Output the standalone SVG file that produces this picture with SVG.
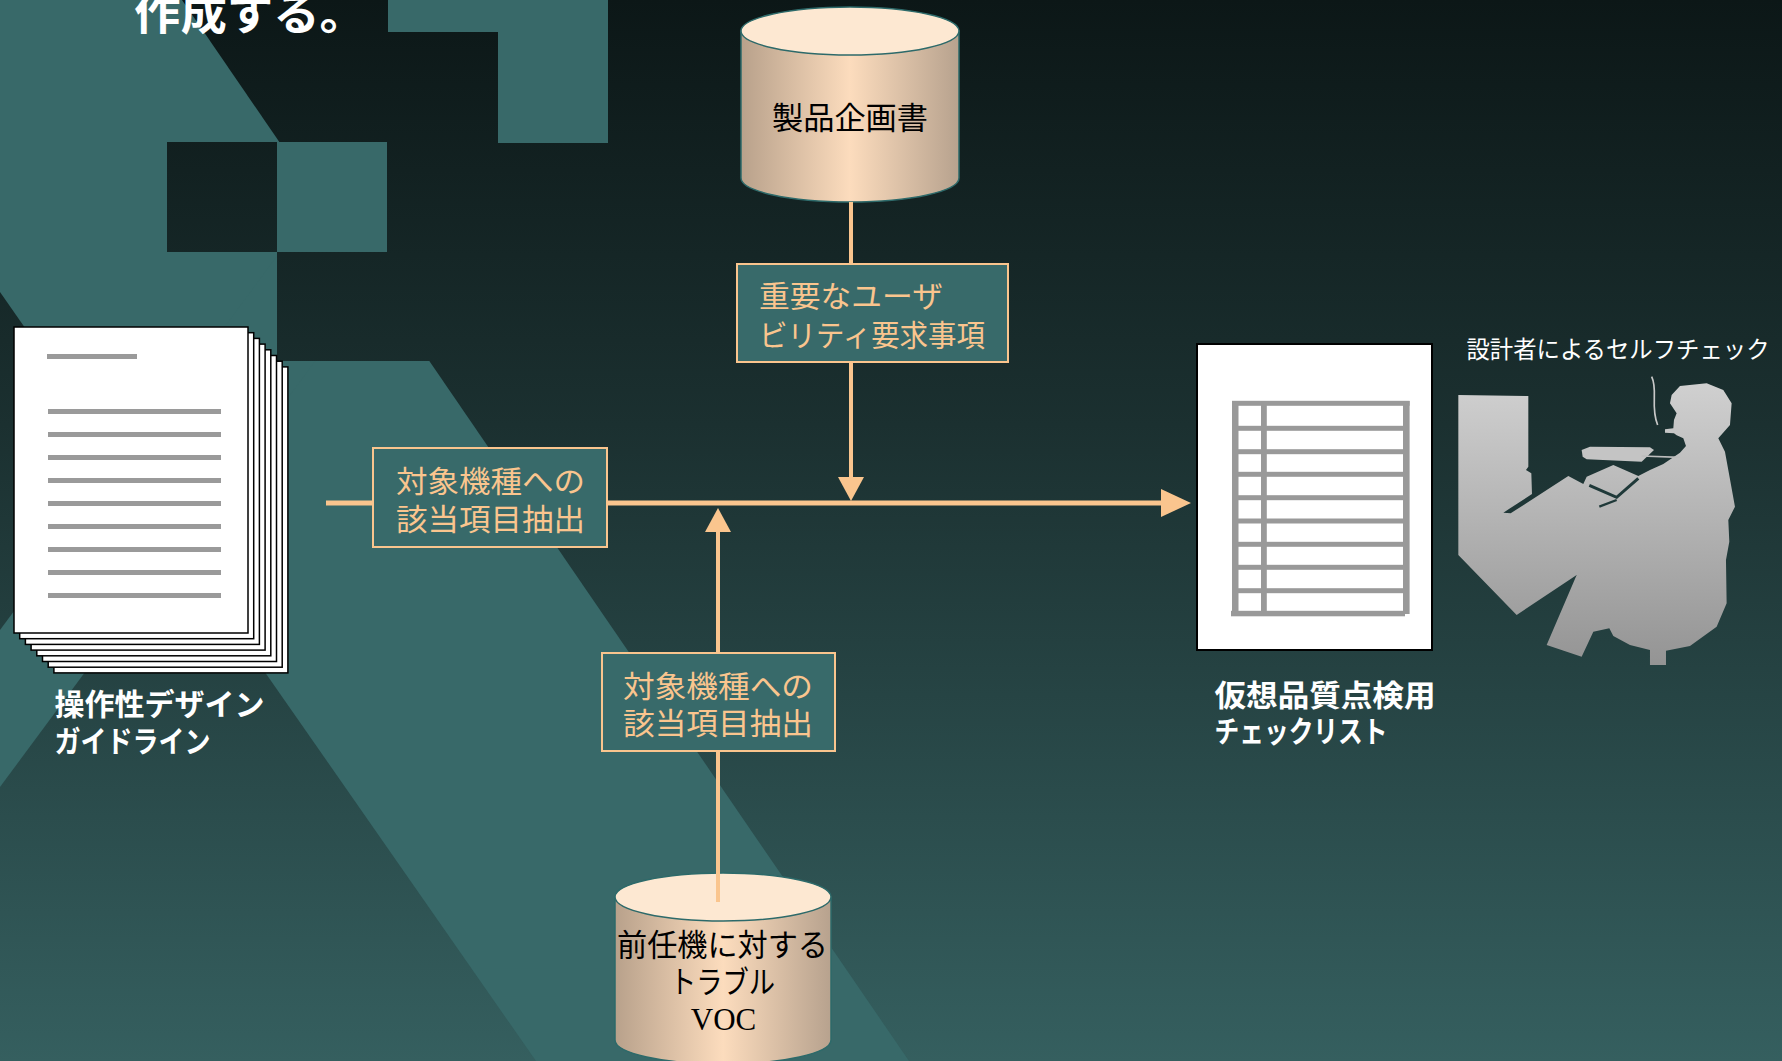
<svg xmlns="http://www.w3.org/2000/svg" width="1782" height="1061" viewBox="0 0 1782 1061">
  <defs>
    <linearGradient id="bg" gradientUnits="userSpaceOnUse" x1="0" y1="0" x2="0" y2="1061">
      <stop offset="0" stop-color="#0c1717"/>
      <stop offset="0.4" stop-color="#1b3030"/>
      <stop offset="1" stop-color="#355f5f"/>
    </linearGradient>
    <linearGradient id="cylBody" x1="0" y1="0" x2="1" y2="0">
      <stop offset="0" stop-color="#b8a18b"/>
      <stop offset="0.5" stop-color="#fcdcbd"/>
      <stop offset="1" stop-color="#b7a28e"/>
    </linearGradient>
    <linearGradient id="figureFill" x1="0" y1="0" x2="0" y2="1">
      <stop offset="0" stop-color="#d0d0d0"/>
      <stop offset="1" stop-color="#949494"/>
    </linearGradient>
    <marker id="arrowV" markerUnits="userSpaceOnUse" markerWidth="24" markerHeight="26" viewBox="0 0 24 26" refX="0" refY="13" orient="auto">
      <path d="M0,0 L24,13 L0,26 Z" fill="#fac58e"/>
    </marker>
    <marker id="arrowH" markerUnits="userSpaceOnUse" markerWidth="30" markerHeight="28" viewBox="0 0 30 28" refX="0" refY="14" orient="auto">
      <path d="M0,0 L30,14 L0,28 Z" fill="#fac58e"/>
    </marker>
  </defs>
  <style>
    .jp { font-family: "Noto Sans CJK JP", "Noto Sans", sans-serif; }
    .serif { font-family: "Liberation Serif", "Noto Sans CJK JP", serif; }
    .conn { fill: none; stroke: #fac58e; stroke-width: 4; }
    .main { stroke-width: 5; }
    .box { fill: #386a6a; stroke: #fac58e; stroke-width: 2; }
    .boxText { fill: #fac58e; font-size: 30px; }
    .cylSide { fill: url(#cylBody); stroke: #2d6a6a; stroke-width: 1.5; }
    .cylTop { fill: #fde8d2; stroke: #2d6a6a; stroke-width: 1.5; }
    .cylText { fill: #000; font-size: 31px; text-anchor: middle; }
    .page { fill: #fff; stroke: #000; stroke-width: 1.5; }
    .rule { fill: #9a9a9a; }
    .caption { fill: #fff; font-weight: bold; font-size: 30px; }
    .teal { fill: #386969; }
    .shade { fill: url(#bg); }
    .grid { fill: #999; }
  </style>

  <!-- backdrop: gradient with light beams and a block mosaic -->
  <rect width="1782" height="1061" fill="url(#bg)"/>
  <g class="teal">
    <polygon points="0,0 182,0 909,1061 536,1061 0,292"/>
    <polygon points="280,252 396,252 0,787 0,630"/>
  </g>
  <g class="shade">
    <rect x="167" y="142" width="110" height="110"/>
    <rect x="277" y="252" width="220" height="109"/>
  </g>
  <g class="teal">
    <rect x="277" y="142" width="110" height="110"/>
    <rect x="388" y="0" width="220" height="32"/>
    <rect x="498" y="0" width="110" height="143"/>
  </g>

  <!-- heading tail -->
  <text class="jp" x="134" y="30" font-size="44" font-weight="bold" fill="#fff" textLength="232" lengthAdjust="spacingAndGlyphs">作成する。</text>

  <!-- product plan (database) -->
  <g id="node-product-plan">
    <path class="cylSide" d="M741,31 L741,178 A109,24 0 0 0 959,178 L959,31 Z"/>
    <ellipse class="cylTop" cx="850" cy="31" rx="109" ry="24"/>
    <text class="serif cylText" x="850" y="129" textLength="156" lengthAdjust="spacingAndGlyphs">製品企画書</text>
  </g>

  <!-- VOC (database) -->
  <g id="node-voc">
    <path class="cylSide" d="M615,897 L615,1040 A108,24 0 0 0 831,1040 L831,897 Z"/>
    <ellipse class="cylTop" cx="723" cy="897" rx="108" ry="24"/>
    <text class="serif cylText" x="722.5" y="956" textLength="211" lengthAdjust="spacingAndGlyphs">前任機に対する</text>
    <text class="serif cylText" x="722.5" y="993" textLength="105" lengthAdjust="spacingAndGlyphs">トラブル</text>
    <text class="serif cylText" x="723.5" y="1030">VOC</text>
  </g>

  <!-- connectors -->
  <g id="connectors">
    <line class="conn" x1="851" y1="202" x2="851" y2="477" marker-end="url(#arrowV)"/>
    <line class="conn" x1="718" y1="902" x2="718" y2="532" marker-end="url(#arrowV)"/>
    <line class="conn main" x1="326" y1="503" x2="1161" y2="503" marker-end="url(#arrowH)"/>
  </g>

  <!-- key usability requirements -->
  <g id="node-usability-req">
    <rect class="box" x="737" y="264" width="271" height="98"/>
    <text class="jp boxText" x="759" y="307" textLength="184" lengthAdjust="spacingAndGlyphs">重要なユーザ</text>
    <text class="jp boxText" x="759" y="346" textLength="226" lengthAdjust="spacingAndGlyphs">ビリティ要求事項</text>
  </g>

  <!-- extraction from the guideline -->
  <g id="node-extract-guideline">
    <rect class="box" x="373" y="448" width="234" height="99"/>
    <text class="jp boxText" x="490.5" y="492" text-anchor="middle" textLength="189" lengthAdjust="spacingAndGlyphs">対象機種への</text>
    <text class="jp boxText" x="490.5" y="529.5" text-anchor="middle" textLength="189" lengthAdjust="spacingAndGlyphs">該当項目抽出</text>
  </g>

  <!-- extraction from VOC -->
  <g id="node-extract-voc">
    <rect class="box" x="602" y="653" width="233" height="98"/>
    <text class="jp boxText" x="718" y="697" text-anchor="middle" textLength="190" lengthAdjust="spacingAndGlyphs">対象機種への</text>
    <text class="jp boxText" x="718" y="734" text-anchor="middle" textLength="190" lengthAdjust="spacingAndGlyphs">該当項目抽出</text>
  </g>

  <!-- usability design guideline (stack of pages) -->
  <g id="node-guideline">
    <rect class="page" x="53.9" y="366.9" width="234" height="306"/>
    <rect class="page" x="48.2" y="361.2" width="234" height="306"/>
    <rect class="page" x="42.5" y="355.5" width="234" height="306"/>
    <rect class="page" x="36.8" y="349.8" width="234" height="306"/>
    <rect class="page" x="31.1" y="344.1" width="234" height="306"/>
    <rect class="page" x="25.4" y="338.4" width="234" height="306"/>
    <rect class="page" x="19.7" y="332.7" width="234" height="306"/>
    <rect class="page" x="14" y="327" width="234" height="306" stroke-width="2"/>
    <rect class="rule" x="47" y="354" width="90" height="5"/>
    <rect class="rule" x="48" y="409" width="173" height="5"/>
    <rect class="rule" x="48" y="432" width="173" height="5"/>
    <rect class="rule" x="48" y="455" width="173" height="5"/>
    <rect class="rule" x="48" y="478" width="173" height="5"/>
    <rect class="rule" x="48" y="501" width="173" height="5"/>
    <rect class="rule" x="48" y="524" width="173" height="5"/>
    <rect class="rule" x="48" y="547" width="173" height="5"/>
    <rect class="rule" x="48" y="570" width="173" height="5"/>
    <rect class="rule" x="48" y="593" width="173" height="5"/>
    <text class="jp caption" x="54.5" y="715" textLength="210" lengthAdjust="spacingAndGlyphs">操作性デザイン</text>
    <text class="jp caption" x="54.5" y="752" textLength="156" lengthAdjust="spacingAndGlyphs">ガイドライン</text>
  </g>

  <!-- checklist for virtual quality inspection -->
  <g id="node-checklist">
    <rect x="1197" y="344" width="235" height="306" fill="#fff" stroke="#000" stroke-width="2"/>
    <rect class="grid" x="1232" y="401" width="6.5" height="215"/>
    <rect class="grid" x="1261" y="405" width="5.8" height="209"/>
    <rect class="grid" x="1403" y="401" width="6.6" height="213"/>
    <rect class="grid" x="1232" y="400.8" width="177.6" height="5"/>
    <rect class="grid" x="1238" y="425.8" width="165" height="5"/>
    <rect class="grid" x="1238" y="449.2" width="165" height="5"/>
    <rect class="grid" x="1238" y="471.8" width="165" height="5"/>
    <rect class="grid" x="1238" y="495.2" width="165" height="5"/>
    <rect class="grid" x="1238" y="518.5" width="165" height="5"/>
    <rect class="grid" x="1238" y="541.8" width="165" height="5"/>
    <rect class="grid" x="1238" y="564.8" width="165" height="5"/>
    <rect class="grid" x="1238" y="588.2" width="165" height="5"/>
    <rect class="grid" x="1231" y="610.8" width="174" height="5.5"/>
    <text class="jp caption" x="1214.5" y="706" textLength="221" lengthAdjust="spacingAndGlyphs">仮想品質点検用</text>
    <text class="jp caption" x="1214.5" y="742" textLength="173" lengthAdjust="spacingAndGlyphs">チェックリスト</text>
  </g>

  <!-- designer self check: figure at a desk -->
  <g id="node-self-check">
    <text class="jp" x="1466.5" y="358" font-size="24" fill="#fff" textLength="303" lengthAdjust="spacingAndGlyphs">設計者によるセルフチェック</text>
    <g transform="translate(1450,370) scale(0.3333)">
      <path fill="url(#figureFill)" d="M25,75 L235,78 L235,290 L228,300 L244,310 L246,372 L160,428 L182,430 L355,318 L400,342 L410,320 L490,285 L565,318 L600,300 L640,282 L690,248 L708,228 L700,205 L680,196 L672,190 L645,188 L645,178 L670,175 L672,150 L680,130 L660,100 L665,75 L690,48 L770,40 L820,60 L845,100 L840,165 L805,205 L825,245 L835,300 L855,410 L835,450 L838,515 L828,570 L830,700 L800,770 L720,828 L648,842 L648,885 L600,885 L600,840 L540,825 L490,798 L478,775 L430,785 L395,860 L290,825 L380,615 L200,735 L25,555 Z"/>
      <path fill="#c4c4c4" d="M395,240 L420,230 L600,232 L612,240 L575,275 L410,268 L398,260 Z"/>
      <path fill="none" stroke="#bdbdbd" stroke-width="5" d="M575,258 L690,262"/>
      <path fill="none" stroke="#c8c8c8" stroke-width="5" d="M605,20 C625,60 600,110 623,165"/>
      <path fill="none" stroke="#1f3939" stroke-width="9" d="M418,346 L500,382 L565,325"/>
      <path fill="none" stroke="#1f3939" stroke-width="7" d="M448,410 L500,390"/>
    </g>
  </g>
</svg>
